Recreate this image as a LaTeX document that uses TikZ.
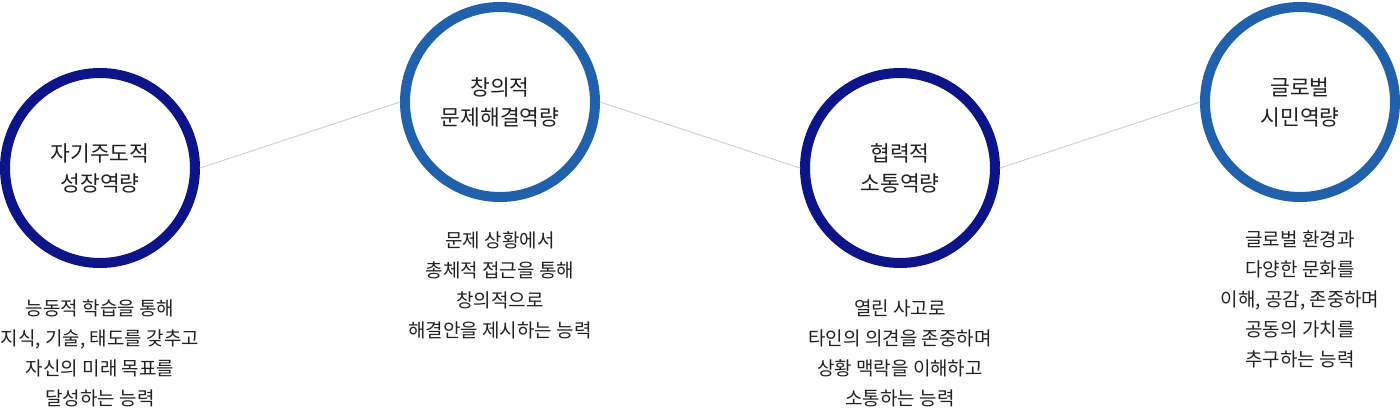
\documentclass[tikz,border=0pt]{standalone}
\usepackage{fontspec}
\setmainfont{Noto Sans CJK KR}
\usepackage{tikz}
\usetikzlibrary{positioning}
\definecolor{navyring}{RGB}{12,20,136}
\definecolor{bluering}{RGB}{33,97,171}
\definecolor{linkgray}{RGB}{210,210,210}
\definecolor{textgray}{RGB}{34,34,34}
\tikzset{
  ring/.style={circle,draw,line width=10pt,minimum size=190pt,inner sep=0pt,fill=white,
    align=center,text=textgray,font=\fontsize{21.5pt}{30pt}\selectfont},
  desc/.style={align=center,text=textgray,font=\fontsize{19pt}{30pt}\selectfont},
  link/.style={color=linkgray,line width=1pt}
}
\begin{document}
\begin{tikzpicture}[line cap=round,line join=round, x=1pt,y=-1pt]
					\useasboundingbox (0,0) rectangle (1400,409);
					% circles
					\node[ring,draw=navyring] (self) at (100,168) {자기주도적\\성장역량};
					\node[ring,draw=bluering] (creative) at (500,102) {창의적\\문제해결역량};
					\node[ring,draw=navyring] (cooperate) at (900,168) {협력적\\소통역량};
					\node[ring,draw=bluering] (global) at (1300,102) {글로벌\\시민역량};
					% links
					\draw[link] (self.east) -- (creative.west);
					\draw[link] (creative.east) -- (cooperate.west);
					\draw[link] (cooperate.east) -- (global.west);
					% descriptions
					\node[desc] (selftext) at (100,353) {능동적 학습을 통해\\지식, 기술, 태도를 갖추고\\자신의 미래 목표를\\달성하는 능력};
					\node[desc] (creativetext) at (500,285) {문제 상황에서\\총체적 접근을 통해\\창의적으로\\해결안을 제시하는 능력};
					\node[desc] (cooperatetext) at (900,353) {열린 사고로\\타인의 의견을 존중하며\\상황 맥락을 이해하고\\소통하는 능력};
					\node[desc] (globaltext) at (1300,299) {글로벌 환경과\\다양한 문화를\\이해, 공감, 존중하며\\공동의 가치를\\추구하는 능력};
				\end{tikzpicture}
\end{document}
